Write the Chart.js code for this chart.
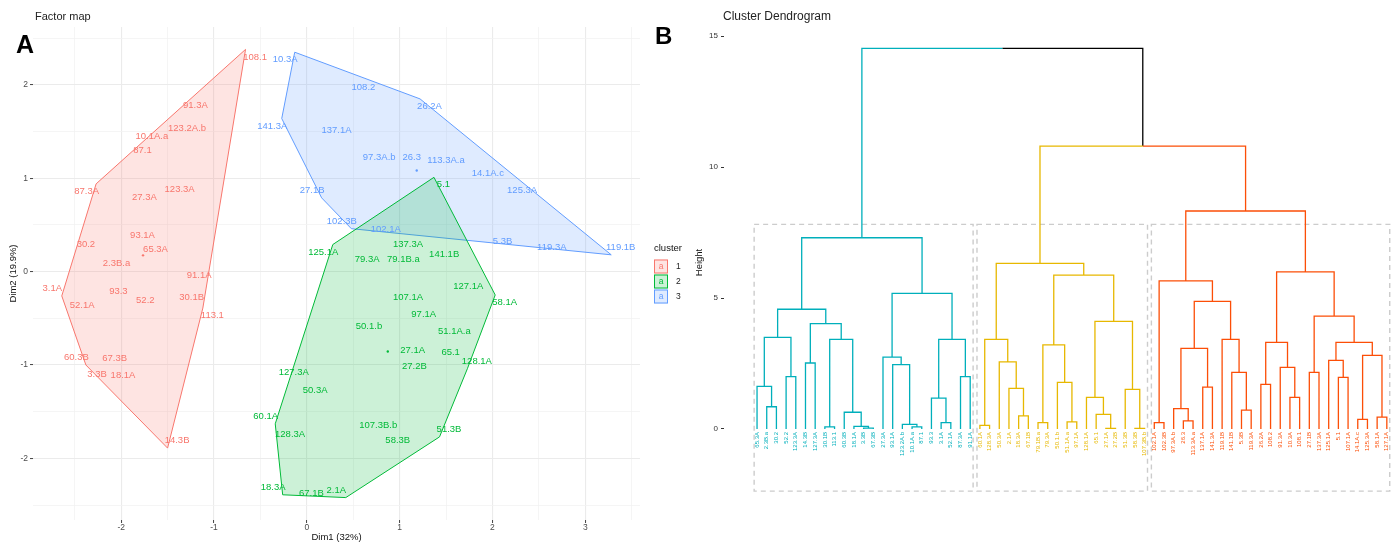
<!DOCTYPE html>
<html>
<head>
<meta charset="utf-8">
<script src="https://cdn.jsdelivr.net/npm/chart.js@4.4.0/dist/chart.umd.min.js"></script>
<style>
  html, body { margin: 0; padding: 0; background: #fff; }
  body { width: 1397px; height: 544px; position: relative; overflow: hidden; }
  #mapWrap { position: absolute; left: 0; top: 0; width: 695px; height: 544px; }
  #dendWrap { position: absolute; left: 645px; top: 0; width: 752px; height: 544px; }
</style>
</head>
<body>
<div id="mapWrap"><canvas id="factorMap"></canvas></div>
<div id="dendWrap"><canvas id="dendrogram"></canvas></div>
<script>
const fontFamily = '"Liberation Sans", Arial, Helvetica, sans-serif'

// ---- Factor map (individuals on Dim1 / Dim2), one set of lists per cluster
const clusterNames = ['1', '2', '3']
const clusterColors = ['#F8766D', '#00BA38', '#619CFF']

const c1Labels = ['108.1', '10.1A.a', '91.3A', '87.1', '123.2A.b', '87.3A', '27.3A', '123.3A', '93.1A', '30.2', '65.3A', '2.3B.a',
  '91.1A', '113.1', '3.1A', '93.3', '52.2', '30.1B', '52.1A', '60.3B', '67.3B', '3.3B', '18.1A', '14.3B']
const c1Dim1 = [-0.66, -1.67, -1.20, -1.77, -1.29, -2.27, -1.75, -1.37, -1.77, -2.38, -1.63, -2.05,
  -1.16, -1.12, -2.64, -2.03, -1.74, -1.24, -2.42, -2.38, -2.07, -2.26, -1.98, -1.50]
const c1Dim2 = [2.38, 1.45, 1.78, 1.30, 1.53, 0.94, 0.80, 0.88, 0.39, 0.29, 0.24, 0.09,
  -0.04, -0.39, -0.26, -0.21, -0.31, -0.28, -0.36, -1.00, -0.93, -1.10, -1.11, -1.89]

const c2Labels = ['5.1', '125.1A', '79.3A', '79.1B.a', '137.3A', '141.1B', '127.1A', '58.1A', '107.1A', '97.1A', '50.1.b', '51.1A.a', '27.1A',
  '65.1', '27.2B', '128.1A', '127.3A', '50.3A', '60.1A', '128.3A', '107.3B.b', '51.3B', '58.3B', '18.3A', '67.1B', '2.1A']
const c2Dim1 = [1.37, 0.28, 0.65, 1.04, 1.09, 1.48, 1.74, 2.03, 1.09, 1.26, 0.67, 1.59, 1.14,
  1.55, 1.16, 1.73, -0.14, 0.09, -0.34, -0.18, 0.77, 1.43, 0.98, -0.26, 0.05, 0.42]
const c2Dim2 = [1.01, 0.29, 0.13, 0.13, 0.29, 0.19, -0.16, -0.25, -0.28, -0.46, -0.59, -0.64, -0.84,
  -0.86, -1.01, -1.04, -1.08, -1.27, -1.63, -1.74, -1.65, -1.77, -1.81, -2.39, -2.38, -2.42]

const c3Labels = ['10.3A', '108.2', '26.2A', '141.3A', '137.1A', '97.3A.b', '26.3', '113.3A.a', '14.1A.c', '125.3A', '27.1B',
  '102.3B', '102.1A', '5.3B', '119.3A', '119.1B']
const c3Dim1 = [-0.13, 0.61, 1.22, -0.27, 0.32, 0.78, 1.13, 1.50, 1.95, 2.32, 0.16, 0.48, 0.85, 2.11, 2.64, 3.28]
const c3Dim2 = [2.35, 1.97, 1.85, 1.64, 1.51, 1.22, 1.22, 1.19, 1.05, 0.87, 0.79, 0.46, 0.45, 0.32, 0.26, 0.18]

const mapXTicks = [-2.5, -2, -1.5, -1, -0.5, 0, 0.5, 1, 1.5, 2, 2.5, 3, 3.5]
const mapYTicks = [-2.5, -2, -1.5, -1, -0.5, 0, 0.5, 1, 1.5, 2, 2.5]

// ---- Cluster dendrogram: leaves in plotting order, groups by size
const leafLabels = [
  '65.3A', '2.3B.a', '30.2', '52.2', '123.3A', '14.3B', '127.3A', '30.1B', '113.1', '60.3B', '18.1A', '3.3B', '67.3B',
  '27.3A', '93.1A', '123.2A.b', '10.1A.a', '87.1', '93.3', '3.1A', '52.1A', '87.3A', '91.1A',
  '60.1A', '128.3A', '50.3A', '2.1A', '18.3A', '67.1B', '79.1B.a', '79.3A', '50.1.b', '51.1A.a', '97.1A', '128.1A',
  '65.1', '27.1A', '27.2B', '51.3B', '58.3B', '107.3B.b',
  '102.1A', '102.3B', '97.3A.b', '26.3', '113.3A.a', '137.1A', '141.3A', '119.1B', '141.1B', '5.3B', '119.3A', '26.2A',
  '108.2', '91.3A', '10.3A', '108.1', '27.1B', '137.3A', '125.1A', '5.1', '107.1A', '14.1A.c', '125.3A', '58.1A', '127.1A'
]
const groupSizes = [23, 18, 25]
const groupColors = ['#00AFBB', '#E7B800', '#FC4E07']
const dendTicks = [0, 5, 10, 15]
const rectBottom = -2.37

// merge tree: [left, right, height]; a number is a leaf position in leafLabels
const dendTree = [
  [
    [[[0, [1, 2, 0.85], 1.63], [3, 4, 2.0], 3.50],
     [[5, 6, 2.52], [[7, 8, 0.08], [9, [10, [11, 12, 0.03], 0.10], 0.64], 3.42], 4.02], 4.57],
    [[13, [14, [15, [16, 17, 0.08], 0.18], 2.46], 2.74],
     [[18, [19, 20, 0.24], 1.18], [21, 22, 2.0], 3.42], 5.18],
    7.30],
  [
    [[[23, 24, 0.14], [25, [26, [27, 28, 0.50], 1.55], 2.56], 3.42],
     [[[29, 30, 0.24], [31, [32, 33, 0.27], 1.78], 3.21],
      [[34, [35, [36, 37, 0.02], 0.56], 1.21], [38, [39, 40, 0.02], 1.51], 4.11], 5.87],
     6.32],
    [[[41, 42, 0.24],
      [[[43, [44, 45, 0.31], 0.78], [46, 47, 1.60], 3.08], [48, [49, [50, 51, 0.72], 2.16], 3.42], 4.87], 5.65],
     [[[52, 53, 1.70], [54, [55, 56, 1.21], 2.35], 3.31],
      [[57, 58, 2.16], [[59, [60, 61, 1.97], 2.62], [[62, 63, 0.37], [64, 65, 0.45], 2.81], 3.31], 4.31], 6.00],
     8.32],
    10.80],
  14.53]

function rgba(hex, a) {
  const n = parseInt(hex.slice(1), 16)
  return `rgba(${n >> 16}, ${(n >> 8) & 255}, ${n & 255}, ${a})`
}

function convexHull(pts) {
  const p = pts.map((q, i) => ({ x: q.x, y: q.y, i })).sort((a, b) => a.x - b.x || a.y - b.y)
  const cross = (o, a, b) => (a.x - o.x) * (b.y - o.y) - (a.y - o.y) * (b.x - o.x)
  const lower = [], upper = []
  for (const q of p) {
    while (lower.length >= 2 && cross(lower[lower.length - 2], lower[lower.length - 1], q) <= 0) lower.pop()
    lower.push(q)
  }
  for (const q of p.slice().reverse()) {
    while (upper.length >= 2 && cross(upper[upper.length - 2], upper[upper.length - 1], q) <= 0) upper.pop()
    upper.push(q)
  }
  return lower.slice(0, -1).concat(upper.slice(0, -1))
}

const panelText = {
  id: 'panelText',
  afterDraw(chart, args, opts) {
    const ctx = chart.ctx
    ctx.save()
    ctx.textAlign = 'left'
    ctx.textBaseline = 'alphabetic'
    for (const t of opts.items || []) {
      ctx.font = t.font
      ctx.fillStyle = t.color || '#000'
      ctx.fillText(t.text, t.x, t.y)
    }
    ctx.restore()
  }
}

// ---- factor map
const clusters = [
  { labels: c1Labels, dim1: c1Dim1, dim2: c1Dim2 },
  { labels: c2Labels, dim1: c2Dim1, dim2: c2Dim2 },
  { labels: c3Labels, dim1: c3Dim1, dim2: c3Dim2 }
]

const mapDatasets = []
clusters.forEach((cl, k) => {
  const pts = cl.dim1.map((x, i) => ({ x, y: cl.dim2[i] }))
  const hull = convexHull(pts)
  const center = {
    x: pts.reduce((s, p) => s + p.x, 0) / pts.length,
    y: pts.reduce((s, p) => s + p.y, 0) / pts.length
  }
  mapDatasets.push({
    label: 'hull ' + clusterNames[k],
    data: hull.map(h => ({ x: h.x, y: h.y })).concat([{ x: hull[0].x, y: hull[0].y }]),
    showLine: true,
    fill: 'shape',
    borderColor: clusterColors[k],
    backgroundColor: rgba(clusterColors[k], 0.2),
    borderWidth: 1,
    pointRadius: 0,
    tension: 0,
    order: 3
  })
  const centerIndex = mapDatasets.length + 1
  mapDatasets.push({
    label: 'cluster ' + clusterNames[k],
    data: pts,
    pointRadius: 0,
    hitRadius: 0,
    names: cl.labels,
    hullIdx: new Set(hull.map(h => h.i)),
    textColor: clusterColors[k],
    centerIndex,
    order: 1
  })
  mapDatasets.push({
    label: 'center ' + clusterNames[k],
    data: [center],
    pointRadius: 1.2,
    pointBackgroundColor: clusterColors[k],
    pointBorderWidth: 0,
    order: 2
  })
})

const pointLabels = {
  id: 'pointLabels',
  afterDatasetsDraw(chart) {
    const ctx = chart.ctx
    ctx.save()
    ctx.font = `9.5px ${fontFamily}`
    ctx.textAlign = 'center'
    ctx.textBaseline = 'middle'
    const boxes = []
    const edge = []
    const hits = b => boxes.some(o => Math.abs(o.x - b.x) * 2 < o.w + b.w && Math.abs(o.y - b.y) * 2 < o.h + b.h)
    chart.data.datasets.forEach((ds, di) => {
      if (!ds.names) return
      const meta = chart.getDatasetMeta(di)
      const c = chart.getDatasetMeta(ds.centerIndex).data[0]
      meta.data.forEach((pt, i) => {
        const lab = { text: ds.names[i], x: pt.x, y: pt.y, w: ctx.measureText(ds.names[i]).width, h: 8, color: ds.textColor }
        if (ds.hullIdx.has(i)) edge.push({ lab, sx: Math.sign(pt.x - c.x) || 1, sy: Math.sign(c.y - pt.y) || 1 })
        else boxes.push(lab)
      })
    })
    // labels of hull points are pushed off the point, like a repel
    edge.forEach(({ lab, sx, sy }) => {
      const tries = [[sx, sy], [sx, -sy], [-sx, sy], [-sx, -sy]]
        .map(([a, b]) => Object.assign({}, lab, { x: lab.x + a * 9.5, y: lab.y + b * 7.5 }))
      boxes.push(tries.find(t => !hits(t)) || tries[0])
    })
    boxes.forEach(b => {
      ctx.fillStyle = b.color
      ctx.fillText(b.text, b.x, b.y)
    })
    ctx.restore()
  }
}

const clusterLegend = {
  id: 'clusterLegend',
  afterDraw(chart) {
    const { ctx, chartArea } = chart
    const x0 = chartArea.right + 14
    const mid = (chartArea.top + chartArea.bottom) / 2
    ctx.save()
    ctx.textBaseline = 'middle'
    ctx.textAlign = 'left'
    ctx.font = `9.5px ${fontFamily}`
    ctx.fillStyle = '#111'
    ctx.fillText('cluster', x0, mid - 25)
    clusterNames.forEach((name, i) => {
      const top = mid - 14 + i * 15
      ctx.fillStyle = '#fff'
      ctx.fillRect(x0, top, 14, 14)
      ctx.fillStyle = rgba(clusterColors[i], 0.2)
      ctx.fillRect(x0, top, 14, 14)
      ctx.strokeStyle = clusterColors[i]
      ctx.lineWidth = 1
      ctx.strokeRect(x0 + 0.5, top + 0.5, 13, 13)
      ctx.fillStyle = clusterColors[i]
      ctx.textAlign = 'center'
      ctx.font = `8.5px ${fontFamily}`
      ctx.fillText('a', x0 + 7, top + 7)
      ctx.textAlign = 'left'
      ctx.fillStyle = '#222'
      ctx.fillText(name, x0 + 22, top + 7)
    })
    ctx.restore()
  }
}

const isMajor = v => Number.isInteger(v)

new Chart(document.getElementById('factorMap'), {
  type: 'scatter',
  data: { datasets: mapDatasets },
  options: {
    responsive: true,
    maintainAspectRatio: false,
    animation: false,
    events: [],
    layout: { padding: { left: 0, top: 27, right: 55, bottom: 0 } },
    plugins: {
      legend: { display: false },
      tooltip: { enabled: false },
      panelText: {
        items: [
          { text: 'Factor map', x: 35, y: 20, font: `11px ${fontFamily}`, color: '#222' },
          { text: 'A', x: 16, y: 53, font: `bold 25px ${fontFamily}`, color: '#000' }
        ]
      }
    },
    scales: {
      x: {
        type: 'linear',
        min: -2.95,
        max: 3.59,
        afterBuildTicks: s => { s.ticks = mapXTicks.map(v => ({ value: v })) },
        afterFit: s => { s.height = 24 },
        border: { display: false },
        grid: {
          color: c => isMajor(c.tick.value) ? '#EBEBEB' : '#F3F3F3',
          lineWidth: c => isMajor(c.tick.value) ? 1.1 : 0.8,
          tickColor: c => isMajor(c.tick.value) ? '#444' : 'rgba(0,0,0,0)',
          tickLength: 3,
          tickWidth: 1
        },
        ticks: {
          autoSkip: false,
          maxRotation: 0,
          padding: 0,
          color: '#4D4D4D',
          font: { size: 8.5, family: fontFamily },
          callback: v => isMajor(v) ? String(v) : ''
        },
        title: {
          display: true,
          text: 'Dim1 (32%)',
          color: '#111',
          font: { size: 9.5, family: fontFamily },
          padding: { top: 0, bottom: 1 }
        }
      },
      y: {
        type: 'linear',
        min: -2.66,
        max: 2.62,
        afterBuildTicks: s => { s.ticks = mapYTicks.map(v => ({ value: v })) },
        afterFit: s => { s.width = 33 },
        border: { display: false },
        grid: {
          color: c => isMajor(c.tick.value) ? '#EBEBEB' : '#F3F3F3',
          lineWidth: c => isMajor(c.tick.value) ? 1.1 : 0.8,
          tickColor: c => isMajor(c.tick.value) ? '#444' : 'rgba(0,0,0,0)',
          tickLength: 3,
          tickWidth: 1
        },
        ticks: {
          autoSkip: false,
          padding: 2,
          color: '#4D4D4D',
          font: { size: 8.5, family: fontFamily },
          callback: v => isMajor(v) ? String(v) : ''
        },
        title: {
          display: true,
          text: 'Dim2 (19.9%)',
          color: '#111',
          font: { size: 9.5, family: fontFamily },
          padding: { top: 8, bottom: 0 }
        }
      }
    }
  },
  plugins: [pointLabels, clusterLegend, panelText]
})

// ---- dendrogram
const leafGroup = []
groupSizes.forEach((n, g) => { for (let i = 0; i < n; i++) leafGroup.push(g) })

const segments = { 0: [], 1: [], 2: [], black: [] }
const mergeHeights = []
function layoutTree(node) {
  if (typeof node === 'number') return { x: node, h: 0, group: leafGroup[node] }
  const a = layoutTree(node[0])
  const b = layoutTree(node[1])
  const h = node[2]
  const x = (a.x + b.x) / 2
  mergeHeights.push(h)
  for (const c of [a, b]) {
    const key = c.group === null ? 'black' : c.group
    segments[key].push({ x: c.x, y: c.h }, { x: c.x, y: h }, { x, y: h }, { x, y: null })
  }
  return { x, h, group: a.group === b.group ? a.group : null }
}
layoutTree(dendTree)
const sortedHeights = mergeHeights.slice().sort((p, q) => q - p)
const k = groupSizes.length
const rectTop = (sortedHeights[k - 1] + sortedHeights[k]) / 2

const dendDatasets = [0, 1, 2, 'black'].map(key => ({
  label: String(key),
  data: segments[key],
  showLine: true,
  spanGaps: false,
  borderColor: key === 'black' ? '#000000' : groupColors[key],
  borderWidth: 1.3,
  borderCapStyle: 'butt',
  borderJoinStyle: 'miter',
  pointRadius: 0,
  tension: 0
}))

const dendDecor = {
  id: 'dendDecor',
  beforeDatasetsDraw(chart) {
    const { ctx, scales: { x, y } } = chart
    ctx.save()
    ctx.strokeStyle = '#CCCCCC'
    ctx.lineWidth = 1.4
    ctx.setLineDash([5, 4])
    let start = 0
    groupSizes.forEach(n => {
      const l = x.getPixelForValue(start - 0.3)
      const r = x.getPixelForValue(start + n - 1 + 0.3)
      const t = y.getPixelForValue(rectTop)
      const b = y.getPixelForValue(rectBottom)
      ctx.strokeRect(l, t, r - l, b - t)
      start += n
    })
    ctx.restore()
  },
  afterDatasetsDraw(chart) {
    const { ctx, scales: { x, y } } = chart
    ctx.save()
    ctx.font = `6px ${fontFamily}`
    ctx.textAlign = 'right'
    ctx.textBaseline = 'middle'
    const y0 = y.getPixelForValue(0) + 3
    leafLabels.forEach((name, i) => {
      ctx.save()
      ctx.translate(x.getPixelForValue(i), y0)
      ctx.rotate(-Math.PI / 2)
      ctx.fillStyle = groupColors[leafGroup[i]]
      ctx.fillText(name, 0, 0)
      ctx.restore()
    })
    ctx.restore()
  }
}

new Chart(document.getElementById('dendrogram'), {
  type: 'scatter',
  data: { datasets: dendDatasets },
  options: {
    responsive: true,
    maintainAspectRatio: false,
    animation: false,
    events: [],
    layout: { padding: { left: 45, top: 25, right: 0, bottom: 44 } },
    plugins: {
      legend: { display: false },
      tooltip: { enabled: false },
      panelText: {
        items: [
          { text: 'Cluster Dendrogram', x: 78, y: 20, font: `12px ${fontFamily}`, color: '#222' },
          { text: 'B', x: 10, y: 44, font: `bold 24px ${fontFamily}`, color: '#000' }
        ]
      }
    },
    scales: {
      x: { type: 'linear', display: false, min: -3.41, max: 66.05 },
      y: {
        type: 'linear',
        min: -2.71,
        max: 15.42,
        afterBuildTicks: s => { s.ticks = dendTicks.map(v => ({ value: v })) },
        afterFit: s => { s.width = 34 },
        border: { display: false },
        grid: { drawOnChartArea: false, drawTicks: true, tickLength: 3, tickColor: '#333', tickWidth: 1 },
        ticks: { color: '#333', padding: 3, font: { size: 8, family: fontFamily } },
        title: {
          display: true,
          text: 'Height',
          color: '#111',
          font: { size: 9.5, family: fontFamily },
          padding: { top: 4, bottom: 0 }
        }
      }
    }
  },
  plugins: [dendDecor, panelText]
})
</script>
</body>
</html>
